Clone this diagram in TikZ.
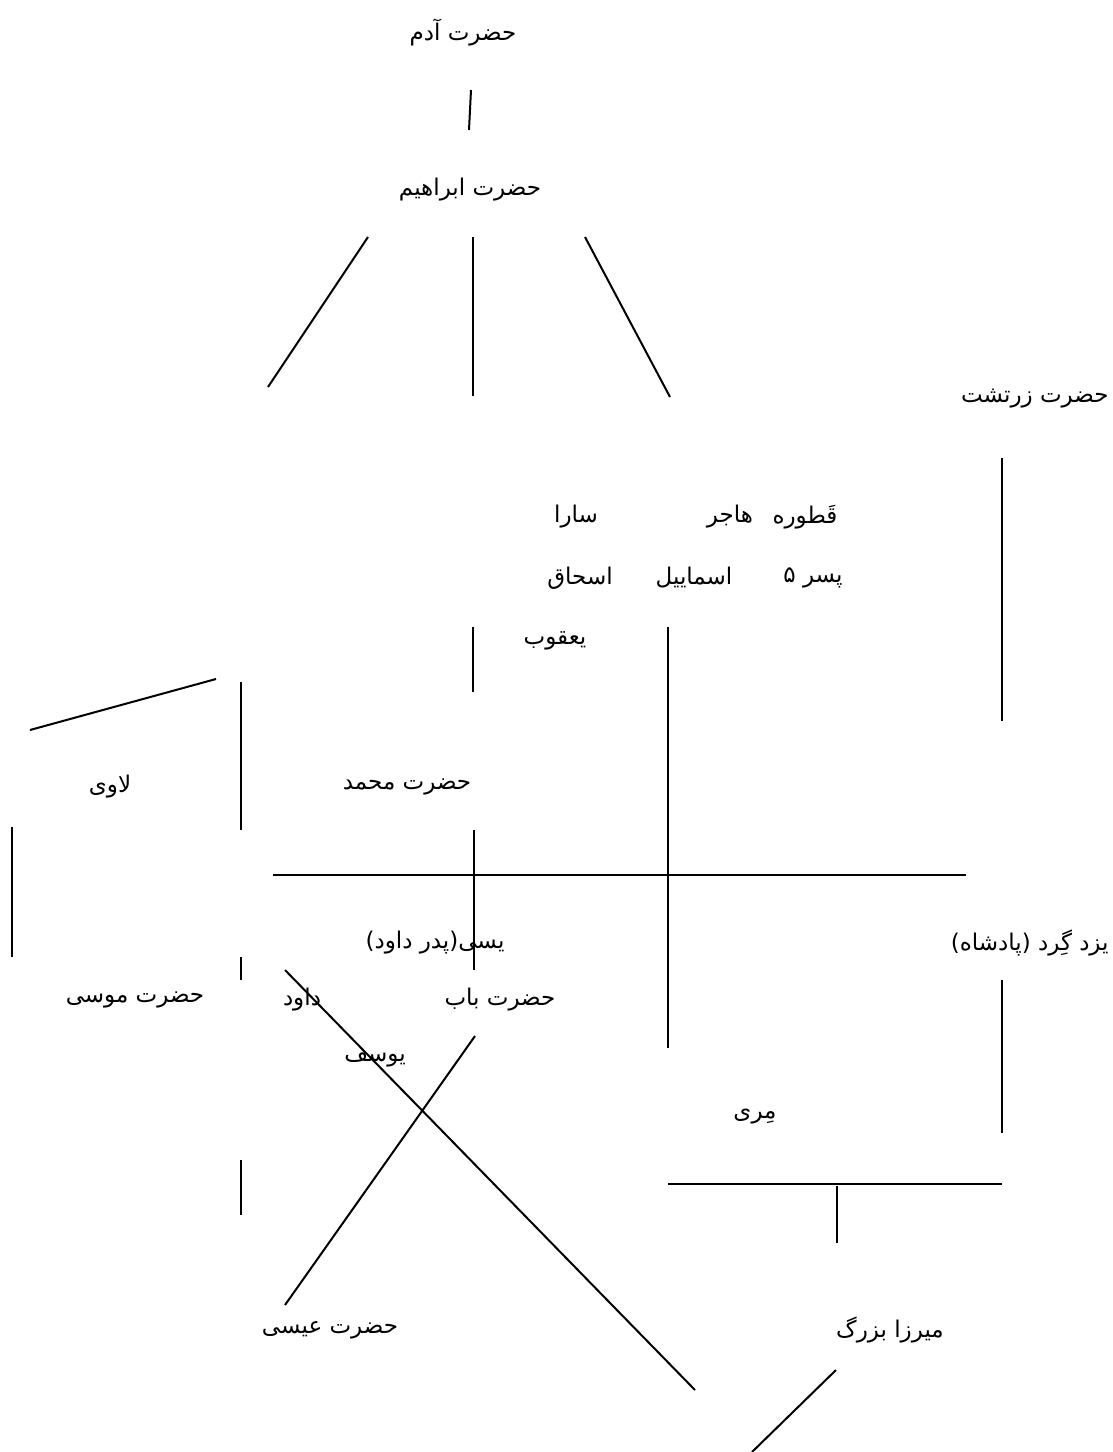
\documentclass[tikz,border=0pt]{standalone}
\usepackage{fontspec}
\newfontfamily\arabicfont[Script=Arabic]{DejaVu Sans}
\TeXXeTstate=1
\usetikzlibrary{positioning}
\newcommand{\fatext}[1]{\beginR #1\endR}

\begin{document}
\begin{tikzpicture}[x=0.5pt, y=-0.5pt,
  lbl/.style={font=\arabicfont\fontsize{11.5}{14}\selectfont, inner sep=1pt},
  link/.style={line width=1pt}]
  \useasboundingbox (0,0) rectangle (1113,1452);

  % names
  \node[lbl] (adam)     at (463,33)   {\fatext{حضرت آدم}};
  \node[lbl] (ibrahim)  at (470,190)  {\fatext{حضرت ابراهیم}};
  \node[lbl, anchor=east] (zartosht) at (1111,399) {\fatext{حضرت زرتشت}};
  \node[lbl] (ghatura)  at (805,517)  {\fatext{قَطوره}};
  \node[lbl] (hajar)    at (730,517)  {\fatext{هاجر}};
  \node[lbl] (sara)     at (576,517)  {\fatext{سارا}};
  \node[lbl] (pesar)    at (813,578)  {\fatext{پسر ۵}};
  \node[lbl] (esmail)   at (694,578)  {\fatext{اسماییل}};
  \node[lbl] (eshagh)   at (580,578)  {\fatext{اسحاق}};
  \node[lbl] (yaghub)   at (555,641)  {\fatext{یعقوب}};
  \node[lbl] (lavi)     at (110,787)  {\fatext{لاوی}};
  \node[lbl] (mohammad) at (407,787)  {\fatext{حضرت محمد}};
  \node[lbl] (yessi)    at (435,943)  {\fatext{یسی(پدر داود)}};
  \node[lbl, anchor=east] (yazdgerd) at (1111,943) {\fatext{یزد گِرد (پادشاه)}};
  \node[lbl] (musa)     at (135,1000) {\fatext{حضرت موسی}};
  \node[lbl] (davud)    at (302,1000) {\fatext{داود}};
  \node[lbl] (bab)      at (500,1000) {\fatext{حضرت باب}};
  \node[lbl] (yusof)    at (375,1058) {\fatext{یوسف}};
  \node[lbl] (mari)     at (755,1117) {\fatext{مِری}};
  \node[lbl] (isa)      at (330,1330) {\fatext{حضرت عیسی}};
  \node[lbl] (mirza)    at (890,1330) {\fatext{میرزا بزرگ}};

  % line ends
  \coordinate (adamLo) at (471,90);   \coordinate (ibrUp) at (469,130);
  \coordinate (fanLa) at (368,237);   \coordinate (fanLb) at (268,387);
  \coordinate (fanMa) at (473,237);   \coordinate (fanMb) at (473,396);
  \coordinate (fanRa) at (585,237);   \coordinate (fanRb) at (670,397);
  \coordinate (zarA) at (1002,458);   \coordinate (zarB) at (1002,721);
  \coordinate (mohA) at (473,627);    \coordinate (mohB) at (473,692);
  \coordinate (esmA) at (668,627);    \coordinate (esmB) at (668,1048);
  \coordinate (lavA) at (216,679);    \coordinate (lavB) at (30,730);
  \coordinate (leftA) at (241,682);   \coordinate (leftB) at (241,830);
  \coordinate (edgeA) at (12,827);    \coordinate (edgeB) at (12,957);
  \coordinate (barA) at (273,875);    \coordinate (barB) at (966,875);
  \coordinate (babA) at (474,830);    \coordinate (babB) at (474,970);
  \coordinate (davA) at (241,957);    \coordinate (davB) at (241,980);
  \coordinate (crossA) at (285,970);  \coordinate (crossB) at (695,1390);
  \coordinate (isaA) at (475,1036);   \coordinate (isaB) at (285,1305);
  \coordinate (yazA) at (1002,980);   \coordinate (yazB) at (1002,1133);
  \coordinate (musA) at (241,1160);   \coordinate (musB) at (241,1215);
  \coordinate (marA) at (668,1184);   \coordinate (marB) at (1002,1184);
  \coordinate (mirA) at (837,1186);   \coordinate (mirB) at (837,1243);
  \coordinate (lowA) at (836,1370);   \coordinate (lowB) at (752,1452);

  % connectors
  \draw[link] (adamLo) -- (ibrUp);
  \draw[link] (fanLa) -- (fanLb);
  \draw[link] (fanMa) -- (fanMb);
  \draw[link] (fanRa) -- (fanRb);
  \draw[link] (zarA) -- (zarB);
  \draw[link] (mohA) -- (mohB);
  \draw[link] (esmA) -- (esmB);
  \draw[link] (lavA) -- (lavB);
  \draw[link] (leftA) -- (leftB);
  \draw[link] (edgeA) -- (edgeB);
  \draw[link] (barA) -- (barB);
  \draw[link] (babA) -- (babB);
  \draw[link] (davA) -- (davB);
  \draw[link] (crossA) -- (crossB);
  \draw[link] (isaA) -- (isaB);
  \draw[link] (yazA) -- (yazB);
  \draw[link] (musA) -- (musB);
  \draw[link] (marA) -- (marB);
  \draw[link] (mirA) -- (mirB);
  \draw[link] (lowA) -- (lowB);
\end{tikzpicture}
\end{document}
